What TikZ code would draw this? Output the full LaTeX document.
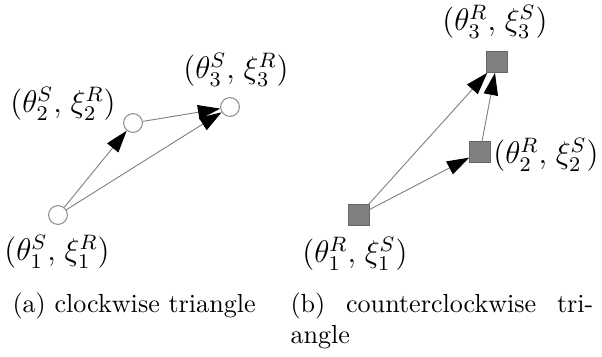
\documentclass[tikz,border=0pt]{standalone}
\usetikzlibrary{arrows.meta}
\begin{document}
\begin{tikzpicture}[x=0.383pt,y=-0.383pt,
  cnode/.style={circle,draw=black!45,fill=white,line width=0.4pt,minimum size=7.2pt,inner sep=0pt},
  snode/.style={rectangle,draw=black!60,fill=black!50,line width=0.3pt,minimum size=8pt,inner sep=0pt},
  conn/.style={draw=black!50,line width=0.35pt,-{Triangle[length=8.5pt,width=5.5pt,fill=black,color=black]}},
  lab/.style={inner sep=0pt,font=\fontsize{11.5}{14}\selectfont},
  captext/.style={inner sep=0pt,font=\fontsize{10}{12}\selectfont}]
\useasboundingbox (0,0) rectangle (602,356);
% (a)
\node[cnode] (c1) at (58,215) {};
\node[cnode] (c2) at (133,123) {};
\node[cnode] (c3) at (230,107) {};
\draw[conn] (c1) -- (c2);
\draw[conn] (c2) -- (c3);
\draw[conn] (c1) -- (c3);
\node[lab] (l1) at (57,252) {$(\theta_1^S,\mkern2mu\xi_1^R)$};
\node[lab] (l2) at (63,104) {$(\theta_2^S,\mkern2mu\xi_2^R)$};
\node[lab] (l3) at (236,70) {$(\theta_3^S,\mkern2mu\xi_3^R)$};
% (b)
\node[snode] (s1) at (359,215) {};
\node[snode] (s2) at (480,152) {};
\node[snode] (s3) at (497,62) {};
\draw[conn] (s1) -- (s2);
\draw[conn] (s2) -- (s3);
\draw[conn] (s1) -- (s3);
\node[lab] (r1) at (355,254) {$(\theta_1^R,\mkern2mu\xi_1^S)$};
\node[lab] (r2) at (546,155) {$(\theta_2^R,\mkern2mu\xi_2^S)$};
\node[lab] (r3) at (495,22) {$(\theta_3^R,\mkern2mu\xi_3^S)$};
% captions
\node[captext,anchor=base west] (capa) at (12,312) {(a) clockwise triangle};
\node[captext,anchor=base west] (capb) at (290,312) {\makebox[116pt][s]{(b) counterclockwise tri-}};
\node[captext,anchor=base west] (capb2) at (290,343) {angle};
\end{tikzpicture}
\end{document}
